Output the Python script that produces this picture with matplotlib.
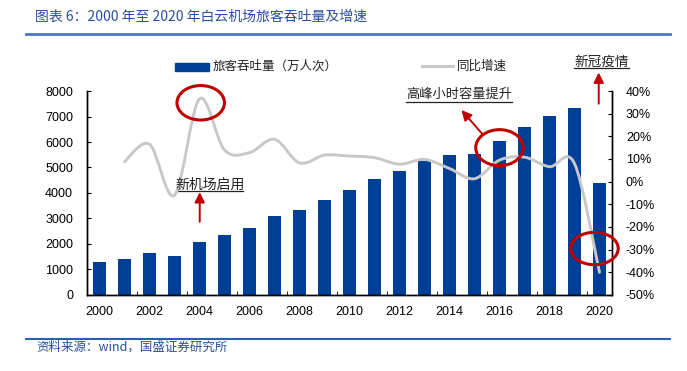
import numpy as np
import matplotlib.pyplot as plt
from matplotlib.path import Path
from matplotlib.patches import PathPatch, Ellipse, Rectangle
from matplotlib.lines import Line2D
from matplotlib.ticker import FuncFormatter, FixedLocator

plt.rcParams['font.family'] = ['Liberation Sans', 'Noto Sans CJK SC', 'DejaVu Sans']
CJK = ['Noto Sans CJK SC', 'DejaVu Sans']

# data
years = list(range(2000, 2021))
passengers = [1300, 1410, 1630, 1540, 2060, 2350, 2640, 3110, 3350, 3740, 4120,
              4540, 4880, 5260, 5480, 5540, 6020, 6580, 7020, 7350, 4400]
growth_years = list(range(2001, 2021))
growth = [0.088, 0.165, -0.06, 0.365, 0.14, 0.128, 0.187, 0.083, 0.117, 0.113,
          0.106, 0.077, 0.098, 0.058, 0.013, 0.095, 0.108, 0.066, 0.08, -0.40]
xlabels = [str(y) if y % 2 == 0 else '' for y in years]

BLUE = '#003f98'
GRAY = '#c8c8c8'
RED = '#c00000'
TBLUE = '#2a4d9c'

fig = plt.figure(figsize=(6.87, 3.71), dpi=100)
ax = fig.add_axes([0.1266, 0.2049, 0.7642, 0.5498])
ax2 = ax.twinx()

x = np.arange(len(years))
ax.bar(x, passengers, width=0.5, color=BLUE, zorder=2)
ax.set_xlim(-0.5, len(years) - 0.5)
ax.set_ylim(0, 8000)
ax.set_yticks(range(0, 8001, 1000))
ax.set_xticks(x)
ax.set_xticklabels(xlabels)
ax.tick_params(axis='x', length=0, labelsize=9, pad=8)
ax.xaxis.set_minor_locator(FixedLocator(np.arange(1.5, 20, 2)))
ax.tick_params(axis='x', which='minor', direction='in', length=3)
ax.tick_params(axis='y', direction='in', length=3, labelsize=9, pad=10)

# smoothed growth line (Excel-style smooth curve through the points)
gx = np.array([years.index(y) for y in growth_years], dtype=float)
gy = np.array(growth)
verts = [(gx[0], gy[0])]
codes = [Path.MOVETO]
n = len(gx)
for i in range(n - 1):
    p0 = np.array([gx[max(i - 1, 0)], gy[max(i - 1, 0)]])
    p1 = np.array([gx[i], gy[i]])
    p2 = np.array([gx[i + 1], gy[i + 1]])
    p3 = np.array([gx[min(i + 2, n - 1)], gy[min(i + 2, n - 1)]])
    c1 = p1 + (p2 - p0) / 6
    c2 = p2 - (p3 - p1) / 6
    verts += [tuple(c1), tuple(c2), tuple(p2)]
    codes += [Path.CURVE4] * 3
ax2.add_patch(PathPatch(Path(verts, codes), fill=False, edgecolor=GRAY,
                        lw=2.1, zorder=3, capstyle='round'))
ax2.set_ylim(-0.5, 0.4)
ax2.set_yticks(np.round(np.arange(-0.5, 0.41, 0.1), 2))
ax2.yaxis.set_major_formatter(FuncFormatter(lambda v, p: f'{round(v*100):d}%'))
ax2.tick_params(axis='y', direction='in', length=3, labelsize=9, pad=10)

for a in (ax, ax2):
    a.spines['top'].set_visible(False)
    for s in ('left', 'right', 'bottom'):
        a.spines[s].set_linewidth(1.0)

# annotations: ellipses
for cx, cy, h in [(4.05, 0.348, 0.152), (16.0, 0.150, 0.159), (19.8, -0.295, 0.143)]:
    ax2.add_patch(Ellipse((cx, cy), 1.9, h, fill=False, edgecolor=RED, lw=2.2,
                          zorder=5, clip_on=False))

def note(txt, size, cx, cy, ux0, ux1, uy, tail, head):
    ax2.text(cx, cy, txt, ha='center', va='center', fontsize=size, family=CJK,
             color='#222222', clip_on=False)
    ax2.plot([ux0, ux1], [uy, uy], color='#222222', lw=0.9, clip_on=False)
    ax2.annotate('', xy=head, xytext=tail,
                 arrowprops=dict(arrowstyle='-|>,head_length=0.6,head_width=0.3',
                                 color=RED, lw=1.4, shrinkA=0, shrinkB=0),
                 annotation_clip=False)

note('新机场启用', 10, 4.43, -0.013, 3.08, 5.76, -0.043, (4.01, -0.177), (4.01, -0.046))
note('高峰小时容量提升', 9.5, 14.38, 0.385, 12.26, 16.49, 0.353, (15.34, 0.207), (14.48, 0.316))
note('新冠疫情', 9.8, 20.1, 0.527, 19.0, 21.2, 0.50, (19.97, 0.344), (19.97, 0.482))

# legend drawn by hand in figure pixels
H = 371.0
def fx(px): return px / 687.0
def fy(py): return 1 - py / H
fig.add_artist(Rectangle((fx(175), fy(70.7)), fx(34), 8 / H, color=BLUE, transform=fig.transFigure))
fig.text(fx(213), fy(66), '旅客吞吐量（万人次）', fontsize=9, family=CJK, va='center', color='#222222')
fig.add_artist(Line2D([fx(422), fx(453)], [fy(66), fy(66)], color=GRAY, lw=2.1, transform=fig.transFigure))
fig.text(fx(457), fy(66), '同比增速', fontsize=9, family=CJK, va='center', color='#222222')

# header / footer
fig.text(fx(35), fy(17), '图表 6：2000 年至 2020 年白云机场旅客吞吐量及增速', fontsize=10,
         family=CJK, style='italic', color=TBLUE, va='center')
fig.add_artist(Line2D([fx(26), fx(670)], [fy(34), fy(34)], color='#4a78c0', lw=2.0, transform=fig.transFigure))
fig.add_artist(Line2D([fx(26), fx(670)], [fy(339), fy(339)], color='#2b5fb0', lw=1.5, transform=fig.transFigure))
fig.text(fx(36), fy(347), '资料来源：wind，国盛证券研究所', fontsize=9, family=CJK,
         style='italic', color=TBLUE, va='center')

fig.savefig('out.png', dpi=100)
